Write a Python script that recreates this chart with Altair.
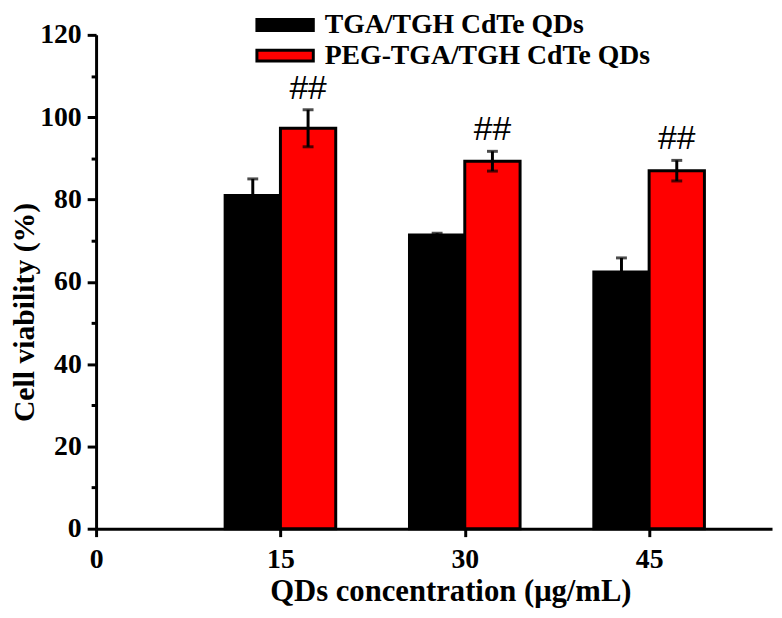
import altair as alt
import pandas as pd

# ---- data ----
concentration = [15, 30, 45]
series_names = ["TGA/TGH CdTe QDs", "PEG-TGA/TGH CdTe QDs"]
tga_mean = [81.0, 71.4, 62.4]
tga_err = [4.0, 0.4, 3.4]
peg_mean = [97.3, 89.3, 87.0]
peg_err = [4.5, 2.4, 2.5]
sig_marks = ["##", "##", "##"]
x_ticks = [0, 15, 30, 45]
y_ticks = list(range(0, 121, 10))

BAR_W = 4.5
FONT = "Liberation Serif"

rows = []
for i, c in enumerate(concentration):
    for s, (m, e, lab) in enumerate([(tga_mean[i], tga_err[i], ""), (peg_mean[i], peg_err[i], sig_marks[i])]):
        x0 = c - BAR_W if s == 0 else c
        rows.append({
            "series": series_names[s],
            "x0": x0, "x1": x0 + BAR_W, "xc": x0 + BAR_W / 2,
            "mean": m, "lo": m - e, "hi": m + e, "sig": lab,
        })
df = pd.DataFrame(rows)

xscale = alt.Scale(domain=[0, 55], nice=False, zero=False)
yscale = alt.Scale(domain=[0, 120], nice=False)

xaxis = alt.Axis(values=x_ticks, title="QDs concentration (μg/mL)", grid=False,
                 domainWidth=3, domainColor="black", tickWidth=3, tickColor="black",
                 tickSize=8, labelFont=FONT, labelFontSize=28, labelFontWeight="bold",
                 labelColor="black", labelPadding=9, titleFont=FONT, titleFontSize=31,
                 titleFontWeight="bold", titleColor="black", titlePadding=4, labelFlush=False,
                 titleX=358, titleAnchor="middle")
yaxis = alt.Axis(values=y_ticks, title="Cell viability (%)", grid=False,
                 domainWidth=3, domainColor="black", tickWidth=3, tickColor="black",
                 tickSize={"condition": {"test": "datum.value % 20 === 0", "value": 9}, "value": 5},
                 labelExpr="datum.value % 20 === 0 ? datum.label : ''",
                 labelFont=FONT, labelFontSize=28, labelFontWeight="bold",
                 labelColor="black", labelPadding=6, titleFont=FONT, titleFontSize=30,
                 titleFontWeight="bold", titleColor="black", titlePadding=0,
                 titleY=280, titleAnchor="middle")

base = alt.Chart(df)

bars = base.mark_bar(stroke="black", strokeWidth=3, opacity=1).encode(
    x=alt.X("x0:Q", scale=xscale, axis=xaxis),
    x2="x1:Q",
    y=alt.Y("mean:Q", scale=yscale, axis=yaxis),
    y2=alt.datum(0),
    color=alt.Color("series:N",
                    scale=alt.Scale(domain=series_names, range=["#000000", "#FF0000"]),
                    sort=series_names,
                    legend=alt.Legend(orient="none", legendX=177, legendY=-24, title=None,
                                      labelFont=FONT, labelFontSize=28, labelFontWeight="bold",
                                      labelColor="black", labelLimit=0,
                                      symbolType="M-2.59,-0.5H2.59V0.5H-2.59Z",
                                      symbolSize=484, symbolStrokeColor="black",
                                      symbolStrokeWidth=3, symbolOpacity=1, labelOffset=26,
                                      rowPadding=3, padding=0)),
)

err = base.mark_rule(color="black", strokeWidth=3).encode(
    x="xc:Q", y="lo:Q", y2="hi:Q")
cap_hi = base.mark_tick(color="black", thickness=3, size=11, orient="horizontal").encode(
    x="xc:Q", y="hi:Q")
cap_lo = base.mark_tick(color="black", thickness=3, size=11, orient="horizontal").encode(
    x="xc:Q", y="lo:Q")
sig = base.mark_text(font="Liberation Sans", fontSize=34, color="black",
                     baseline="bottom", dy=-4).encode(
    x="xc:Q", y="hi:Q", text="sig:N")

chart = alt.layer(bars, err, cap_hi, cap_lo, sig).properties(
    width=683, height=499,
    autosize="none",
    padding={"left": 89, "top": 24, "right": 2, "bottom": 79},
).configure_view(stroke=None)

chart.save("out.html", embed_options={"renderer": "svg", "actions": False})
